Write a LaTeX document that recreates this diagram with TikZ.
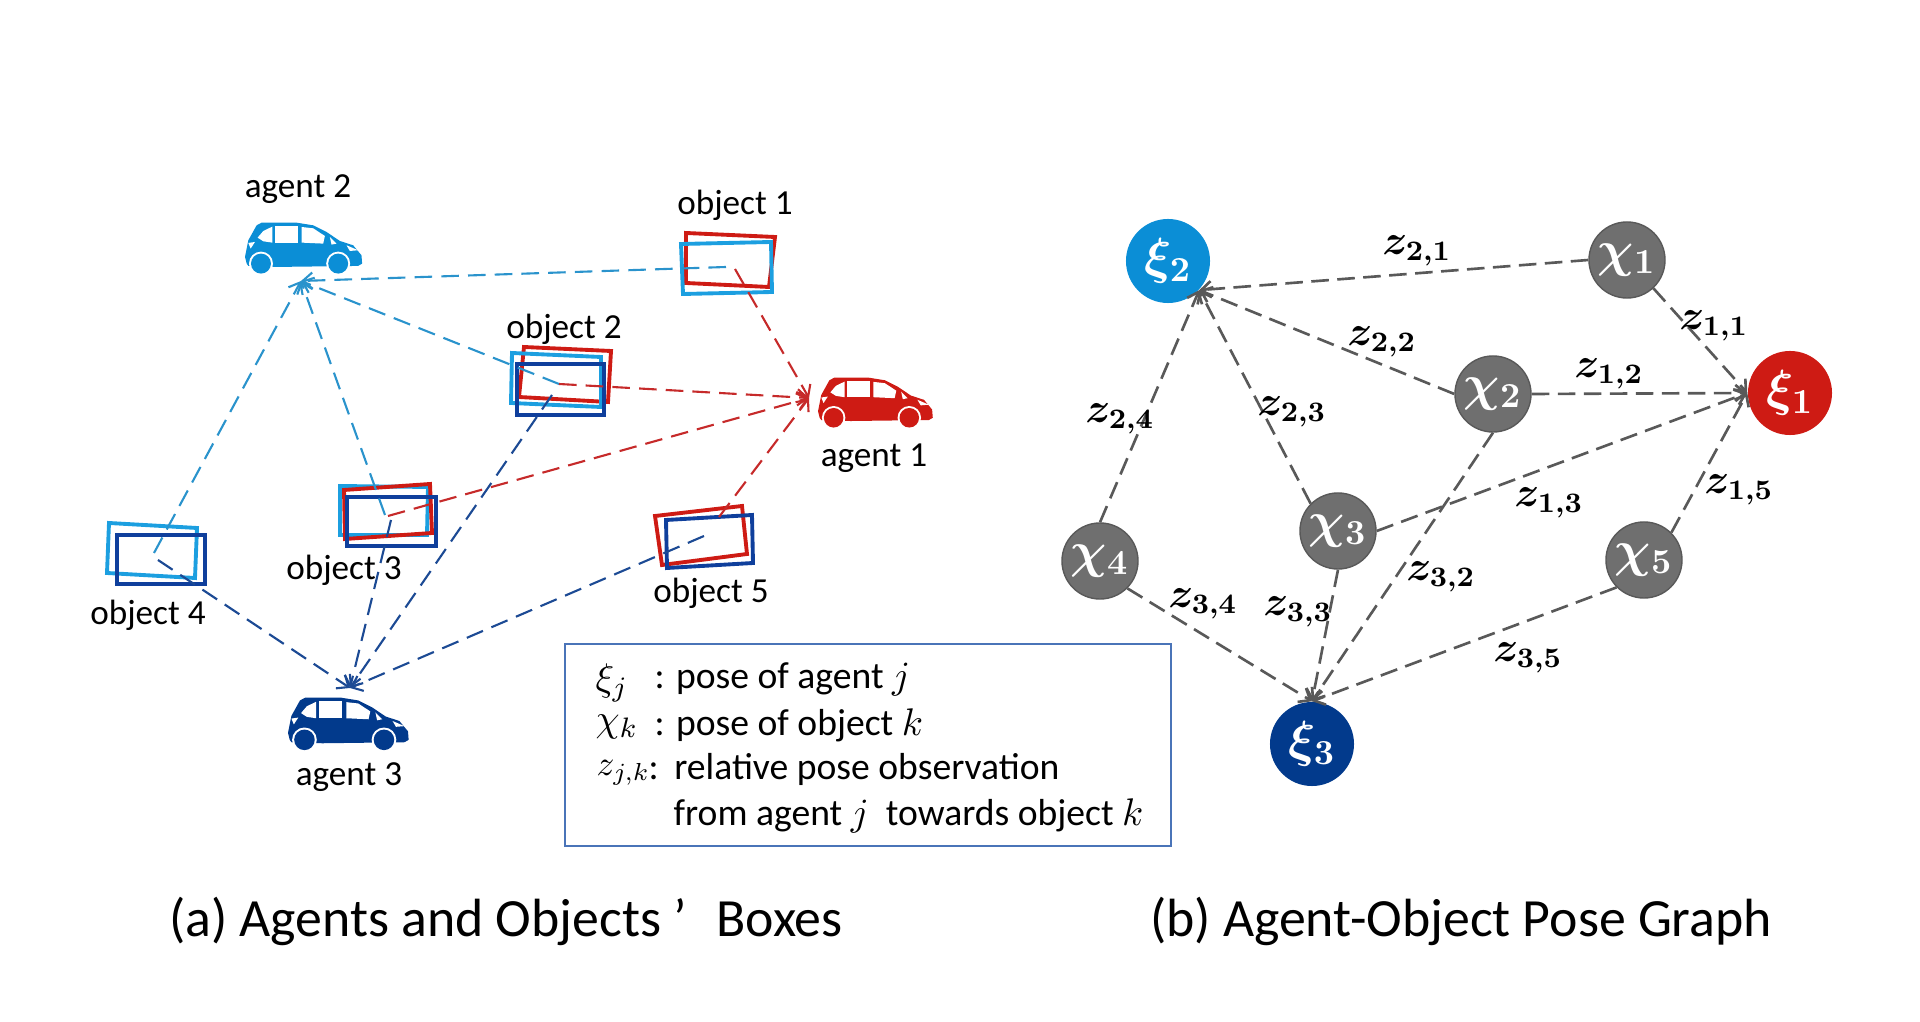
\documentclass[tikz,border=0pt]{standalone}
\usepackage{amsmath, amssymb}
\usepackage{fontspec}
\setmainfont{Carlito}
\usetikzlibrary{arrows.meta}

\definecolor{agentred}{HTML}{CE1B14}
\definecolor{agentblue}{HTML}{0B8ED6}
\definecolor{agentnavy}{HTML}{023A8C}
\definecolor{boxblue}{HTML}{1C9FE0}
\definecolor{boxnavy}{HTML}{0F3F9C}
\definecolor{seenblue}{HTML}{2A93CC}
\definecolor{seenred}{HTML}{C62A2A}
\definecolor{seennavy}{HTML}{1C4A94}
\definecolor{nodegray}{HTML}{6F6F6F}
\definecolor{edgegray}{HTML}{595959}
\definecolor{legendblue}{HTML}{4A74B8}

\tikzset{
  agentnode/.style={circle, fill=#1, text=white, minimum size=0.84cm, inner sep=0pt, font=\fontsize{14}{15}\selectfont\boldmath},
  objnode/.style={circle, fill=nodegray, draw=edgegray, text=white, minimum size=0.76cm, inner sep=0pt, font=\fontsize{14}{15}\selectfont\boldmath},
  edge/.style={draw=edgegray, line width=0.75pt, dash pattern=on 5pt off 2.4pt},
  seen/.style={draw=#1, line width=0.6pt, dash pattern=on 5pt off 2.6pt},
  objbox/.style={draw=#1, line width=1.1pt},
  namelabel/.style={font=\fontsize{10}{10}\selectfont},
  zlabel/.style={font=\fontsize{11.5}{12}\selectfont\boldmath},
  legendtext/.style={anchor=west, inner sep=0pt, font=\fontsize{10.7}{10.7}\selectfont},
  legendmath/.style={anchor=west, inner sep=0pt, font=\fontsize{11}{11}\selectfont},
  caption/.style={font=\fontsize{15.3}{16}\selectfont},
  >={Straight Barb[length=2.8pt, width=4.6pt]}
}

\newcommand{\drawcar}[4]{%
\begin{scope}[shift={(#1,#2)}, x=#3*0.003333cm, y=-0.003333cm*#3]
\fill [#4] (5,125) -- (0,105) -- (10,55) -- (35,10) -- (50,2) -- (155,2) -- (205,10) -- (245,30) -- (285,57) -- (325,70) -- (350,100) -- (352,125) -- (340,132) -- (100,135) -- (10,132) -- cycle;
\fill [white] (48,125) circle (36);
\fill [white] (280,125) circle (36);
\fill [#4] (48,125) circle (30);
\fill [#4] (280,125) circle (30);
\fill [white] (38,47) -- (55,27) -- (82,14) -- (82,62) -- (55,58) -- cycle;
\fill [white] (90,13) -- (158,13) -- (158,62) -- (90,62) -- cycle;
\fill [white] (170,15) -- (205,19) -- (240,42) -- (235,65) -- (170,62) -- cycle;
\fill [white] (255,45) -- (275,65) -- (260,68) -- cycle;
\fill [white] (305,70) -- (340,85) -- (315,87) -- cycle;
\fill [white] (10,63) -- (30,60) -- (17,80) -- cycle;
\end{scope}}

\begin{document}
\begin{tikzpicture}[x=0.01cm, y=-0.01cm]
\useasboundingbox (0,0) rectangle (1920,1022);

\drawcar{245}{222}{1}{agentblue}
\drawcar{818}{377}{0.98}{agentred}
\drawcar{288}{697}{1.03}{agentnavy}

\node [namelabel] (agent2) at (298,189) {agent 2};
\node [namelabel] (agent1) at (874,458) {agent 1};
\node [namelabel] (agent3) at (349,777) {agent 3};
\node [namelabel] (object1) at (735,205) {object 1};
\node [namelabel] (object2) at (564,329) {object 2};
\node [namelabel] (object3) at (344,570) {object 3};
\node [namelabel] (object4) at (148,615) {object 4};
\node [namelabel] (object5) at (711,593) {object 5};

\draw [objbox=agentred] (686,233) -- (775,237) -- (769,287) -- (686,283) -- cycle;
\draw [objbox=boxblue] (681,244) -- (771,242) -- (772,292) -- (683,294) -- cycle;
\draw [objbox=agentred] (524,347) -- (611,351) -- (608,402) -- (519,397) -- cycle;
\draw [objbox=boxblue] (512,353) -- (601,357) -- (601,407) -- (511,403) -- cycle;
\draw [objbox=boxnavy] (517,364) -- (604,364) -- (604,415) -- (517,415) -- cycle;
\draw [objbox=boxblue] (340,486) -- (428,487) -- (427,535) -- (340,535) -- cycle;
\draw [objbox=agentred] (344,490) -- (430,484) -- (432,533) -- (345,539) -- cycle;
\draw [objbox=boxnavy] (347,497) -- (436,497) -- (436,546) -- (347,546) -- cycle;
\draw [objbox=boxblue] (109,523) -- (197,528) -- (195,578) -- (107,573) -- cycle;
\draw [objbox=boxnavy] (117,535) -- (205,535) -- (205,584) -- (117,584) -- cycle;
\draw [objbox=agentred] (655,516) -- (742,506) -- (747,554) -- (662,565) -- cycle;
\draw [objbox=boxnavy] (666,520) -- (752,515) -- (753,563) -- (667,568) -- cycle;

\coordinate (agent2tip) at (301,281);
\coordinate (agent1tip) at (809,398);
\coordinate (agent3tip) at (350,688);
\coordinate (blue1) at (726,267);
\coordinate (blue2) at (559,384);
\coordinate (blue3) at (385,515);
\coordinate (blue4) at (154,553);
\coordinate (red1) at (735,269);
\coordinate (red2) at (559,384);
\coordinate (red3) at (388,516);
\coordinate (red5) at (719,517);
\coordinate (navy2) at (552,395);
\coordinate (navy3) at (391,520);
\coordinate (navy4) at (158,560);
\coordinate (navy5) at (704,536);

\draw [seen=seenblue, ->] (blue1) -- (agent2tip);
\draw [seen=seenblue, ->] (blue2) -- (agent2tip);
\draw [seen=seenblue, ->] (blue3) -- (agent2tip);
\draw [seen=seenblue, ->] (blue4) -- (agent2tip);
\draw [seen=seenred, ->] (red1) -- (agent1tip);
\draw [seen=seenred, ->] (red2) -- (agent1tip);
\draw [seen=seenred, ->] (red3) -- (agent1tip);
\draw [seen=seenred, ->] (red5) -- (agent1tip);
\draw [seen=seennavy, ->] (navy2) -- (agent3tip);
\draw [seen=seennavy, ->] (navy3) -- (agent3tip);
\draw [seen=seennavy, ->] (navy4) -- (agent3tip);
\draw [seen=seennavy, ->] (navy5) -- (agent3tip);

\node [draw=legendblue, line width=0.6pt, minimum width=6.05cm, minimum height=2.02cm] (legend) at (868,745) {};
\node [legendmath] (xilabel) at (595,683) {$\xi_j$};
\node [legendmath] (chilabel) at (595,727) {$\chi_k$};
\node [legendmath, font=\fontsize{10}{10}\selectfont] (zjklabel) at (596,773) {$z_{j,k}$};
\node [legendtext] (line1) at (654,679) {: pose of agent $j$};
\node [legendtext] (line2) at (654,725) {: pose of object $k$};
\node [legendtext] (line3) at (648,769) {:\kern2pt\ relative pose observation};
\node [legendtext] (line4) at (673,816) {from agent $j$\ \ towards object $k$};

\node [caption] (capa) at (506,921) {(a) Agents and Objects ’\hspace{0.55em}Boxes};
\node [caption] (capb) at (1461,921) {(b) Agent-Object Pose Graph};

\node [agentnode=agentblue] (xi2) at (1168,261) {$\xi_2$};
\node [agentnode=agentred] (xi1) at (1790,393) {$\xi_1$};
\node [agentnode=agentnavy] (xi3) at (1312,744) {$\xi_3$};
\node [objnode] (chi1) at (1627,260) {$\chi_1$};
\node [objnode] (chi2) at (1493,394) {$\chi_2$};
\node [objnode] (chi3) at (1338,531) {$\chi_3$};
\node [objnode] (chi4) at (1100,561) {$\chi_4$};
\node [objnode] (chi5) at (1644,560) {$\chi_5$};

\draw [edge, ->] (chi1.west) -- (xi2.-43);
\draw [edge, ->] (chi2.west) -- (xi2.-43);
\draw [edge, ->] (chi3.135) -- (xi2.-43);
\draw [edge, ->] (chi4.north) -- (xi2.-43);
\draw [edge, ->] (chi1.-47) -- (xi1.west);
\draw [edge, ->] (chi2.east) -- (xi1.west);
\draw [edge, ->] (chi3.east) -- (xi1.west);
\draw [edge, ->] (chi5.45) -- (xi1.west);
\draw [edge, ->] (chi2.south) -- (xi3.north);
\draw [edge, ->] (chi3.south) -- (xi3.north);
\draw [edge, ->] (chi4.-45) -- (xi3.north);
\draw [edge, ->] (chi5.-135) -- (xi3.north);

\node [zlabel] (z21) at (1417,251) {$z_{2,1}$};
\node [zlabel] (z11) at (1714,326) {$z_{1,1}$};
\node [zlabel] (z22) at (1382,342) {$z_{2,2}$};
\node [zlabel] (z12) at (1609,374) {$z_{1,2}$};
\node [zlabel] (z23) at (1292,412) {$z_{2,3}$};
\node [zlabel] (z24) at (1120,419) {$z_{2,4}$};
\node [zlabel] (z13) at (1549,503) {$z_{1,3}$};
\node [zlabel] (z15) at (1739,490) {$z_{1,5}$};
\node [zlabel] (z32) at (1441,577) {$z_{3,2}$};
\node [zlabel] (z34) at (1203,604) {$z_{3,4}$};
\node [zlabel] (z33) at (1298,612) {$z_{3,3}$};
\node [zlabel] (z35) at (1528,658) {$z_{3,5}$};
\end{tikzpicture}
\end{document}
